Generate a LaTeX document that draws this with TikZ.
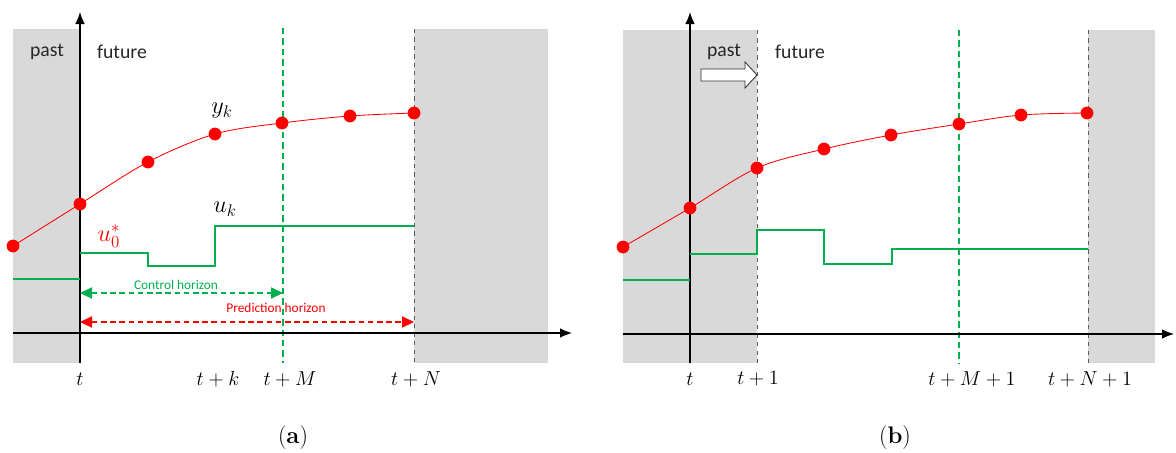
\documentclass[tikz,border=0pt]{standalone}
\usepackage{fontspec}
\newfontfamily\calibfont{Carlito}
\usetikzlibrary{arrows.meta}
\definecolor{mpcred}{HTML}{FF0000}
\definecolor{mpcgreen}{HTML}{00B050}
\definecolor{mpcgray}{HTML}{D9D9D9}

\begin{document}
\begin{tikzpicture}[x=0.25mm, y=-0.25mm,
    axis/.style={-{Latex[length=3mm,width=2.4mm]}, line width=0.9pt},
    dot/.style={circle, fill=mpcred, inner sep=0pt, minimum size=3.2mm},
    traj/.style={mpcred, line width=0.6pt},
    input/.style={mpcgreen, line width=1.9pt},
    hline/.style={dashed, line width=0.6pt, black!65},
    mline/.style={mpcgreen, line width=0.8pt, dash pattern=on 1.6mm off 1mm},
    horizon/.style={{Triangle[length=3mm,width=2.8mm]}-{Triangle[length=3mm,width=2.8mm]}, dash pattern=on 1.4mm off 0.9mm, line width=0.8pt},
    word/.style={text=black!85, font=\calibfont\fontsize{14}{16}\selectfont},
    small/.style={font=\calibfont\fontsize{9.5}{11}\selectfont},
    tick/.style={font=\fontsize{14}{16}\selectfont},
    sig/.style={font=\fontsize{17}{19}\selectfont},
    panelcap/.style={font=\fontsize{17}{19}\selectfont}
  ]
  \useasboundingbox (0,0) rectangle (1176,452);

  % (a) shaded past and beyond horizon
  \fill[mpcgray] (13,29) rectangle (80,363);
  \fill[mpcgray] (414,29) rectangle (548,363);
  \draw[mline] (283,28) -- (283,363);
  \draw[hline] (414,29) -- (414,363);

  \draw[axis] (13,333) -- (572,333);
  \draw[axis] (80,363) -- (80,12);

  \node[word] (pasta) at (47,52) {past};
  \node[word] (futa) at (122,52) {future};

  % input u_k
  \draw[input] (13,279) -- (80,279);
  \draw[input] (80,253) -| (148,266) -| (215,226) -- (414,226);

  % output y_k
  \foreach \n/\x/\y in {0/13/246, 1/80/204, 2/148/162, 3/215/134, 4/282/123, 5/350/116, 6/414/113}
    \coordinate (ya\n) at (\x,\y);
  \draw[traj] plot[smooth, tension=0.55] coordinates {(ya0) (ya1) (ya2) (ya3) (ya4) (ya5) (ya6)};
  \foreach \n in {0,...,6}
    \node[dot] (da\n) at (ya\n) {};

  \node[sig] (yk) at (222,111) {$y_k$};
  \node[sig] (uk) at (225,209) {$u_k$};
  \node[sig, text=mpcred] (u0) at (109,236) {$u_0^*$};

  % horizons
  \coordinate (cha) at (80,293);
  \coordinate (chb) at (283,293);
  \draw[horizon, mpcgreen] (cha) -- (chb);
  \node[small, text=mpcgreen] (chl) at (176,285) {Control horizon};
  \coordinate (pha) at (80,322);
  \coordinate (phb) at (414,322);
  \draw[horizon, mpcred] (pha) -- (phb);
  \node[small, text=mpcred] (phl) at (276,308) {Prediction horizon};

  \node[tick] (ta) at (80,379) {$t$};
  \node[tick] (tka) at (218,379) {$t+k$};
  \node[tick] (tma) at (290,379) {$t+M$};
  \node[tick] (tna) at (416,379) {$t+N$};
  \node[panelcap] (capa) at (293,438) {(\textbf{a})};

  % (b) shaded past and beyond horizon
  \fill[mpcgray] (623,30) rectangle (757,363);
  \fill[mpcgray] (1088,30) rectangle (1155,363);
  \draw[hline] (757,30) -- (757,363);
  \draw[mline] (959,30) -- (959,363);
  \draw[hline] (1088,30) -- (1088,363);

  \draw[axis] (623,334) -- (1174,334);
  \draw[axis] (690,363) -- (690,12);

  \node[word] (pastb) at (724,52) {past};
  \node[word] (futb) at (800,52) {future};
  \draw[black!80, fill=white, line width=0.6pt]
    (701,69) -- (745,69) -- (745,62) -- (757,75) -- (745,88) -- (745,81) -- (701,81) -- cycle;

  % input u_k
  \draw[input] (623,280) -- (690,280);
  \draw[input] (690,254) -| (757,230) -| (824,264) -| (892,249) -- (1088,249);

  % output y_k
  \foreach \n/\x/\y in {0/623/247, 1/690/208, 2/757/168, 3/824/149, 4/891/135, 5/959/124, 6/1021/115, 7/1087/113}
    \coordinate (yb\n) at (\x,\y);
  \draw[traj] plot[smooth, tension=0.55] coordinates {(yb0) (yb1) (yb2) (yb3) (yb4) (yb5) (yb6) (yb7)};
  \foreach \n in {0,...,7}
    \node[dot] (db\n) at (yb\n) {};

  \node[tick] (tb) at (690,379) {$t$};
  \node[tick] (t1b) at (758,379) {$t+1$};
  \node[tick] (tmb) at (972,379) {$t+M+1$};
  \node[tick] (tnb) at (1090,379) {$t+N+1$};
  \node[panelcap] (capb) at (895,438) {(\textbf{b})};
\end{tikzpicture}
\end{document}
